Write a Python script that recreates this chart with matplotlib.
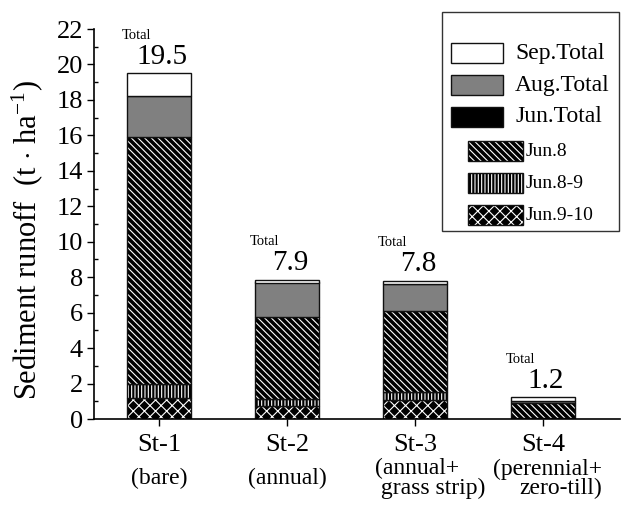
import numpy as np
import matplotlib.pyplot as plt
from matplotlib.patches import Rectangle
from matplotlib.ticker import MultipleLocator
from matplotlib.transforms import Affine2D

plt.rcParams['font.family'] = 'Liberation Serif'
plt.rcParams['mathtext.fontset'] = 'custom'
plt.rcParams['mathtext.rm'] = 'Liberation Serif'
plt.rcParams['mathtext.it'] = 'Liberation Serif:italic'
plt.rcParams['hatch.linewidth'] = 0.8

# data (t/ha), stacked bottom -> top
stations = ['St-1', 'St-2', 'St-3', 'St-4']
sublabels = ['(bare)', '(annual)', '(annual+\n grass strip)', '(perennial+\nzero-till)']
jun_9_10 = [1.2, 0.72, 1.1, 0.02]
jun_8_9 = [0.8, 0.4, 0.45, 0.02]
jun_8 = [13.9, 4.65, 4.55, 0.86]
aug_total = [2.3, 1.93, 1.5, 0.1]
sep_total = [1.3, 0.15, 0.2, 0.22]
totals = ['19.5', '7.9', '7.8', '1.2']

HATCH_J8 = '\\' * 5
HATCH_J89 = '|' * 5
HATCH_J910 = 'xxx'

fig = plt.figure(figsize=(6.23, 5.15), dpi=100)
ax = fig.add_axes([94/623, 1-419/515, 526/623, 390/515])

x = np.arange(1, len(stations) + 1)
w = 0.5
layers = [
    (jun_9_10, 'black', HATCH_J910),
    (jun_8_9, 'black', HATCH_J89),
    (jun_8, 'black', HATCH_J8),
    (aug_total, '#808080', None),
    (sep_total, 'white', None),
]
bottom = np.zeros(len(x))
for vals, fc, hatch in layers:
    if hatch:
        ax.bar(x, vals, w, bottom=bottom, color=fc, edgecolor='white', hatch=hatch, linewidth=0)
        ax.bar(x, vals, w, bottom=bottom, facecolor='none', edgecolor='#111111', linewidth=1)
    else:
        ax.bar(x, vals, w, bottom=bottom, facecolor=fc, edgecolor='#111111', linewidth=1)
    bottom += np.array(vals)

# total labels
for xi, top, t in zip(x, bottom, totals):
    ax.annotate(t, (xi, top), xytext=(2, 7), textcoords='offset points',
                ha='center', va='baseline', fontsize=21)
    ax.annotate('Total', (xi - w/2, top), xytext=(-4, 25), textcoords='offset points',
                ha='left', va='baseline', fontsize=10.5)

ax.set_xlim(0.49, 4.6)
ax.set_ylim(0, 22)
ax.set_xticks(x)
ax.set_xticklabels(stations, fontsize=19)
ax.yaxis.set_major_locator(MultipleLocator(2))
ax.yaxis.set_minor_locator(MultipleLocator(1))
ax.tick_params(axis='y', which='major', direction='out', length=5, width=1, labelsize=19, pad=3)
ax.tick_params(axis='y', which='minor', direction='in', length=3, width=1)
ax.tick_params(axis='x', direction='out', length=5, width=1, pad=6)
for s in ['top', 'right']:
    ax.spines[s].set_visible(False)
for s in ['left', 'bottom']:
    ax.spines[s].set_linewidth(1.2)
ax.set_ylabel(r'Sediment runoff  (t $\cdot$ ha$^{-1}$)', fontsize=22)
ax.yaxis.set_label_coords(-0.094, 0.459)

# sub labels under station names
sub_pos = [(0, 'center', 'center'), (0, 'center', 'center'), (-29, 'left', 'left'), (42.5, 'right', 'right')]
for xi, lab, (dx, ha, ma) in zip(x, sublabels, sub_pos):
    ax.annotate(lab, (xi, 0), xycoords=('data', 'axes fraction'), xytext=(dx, -43),
                textcoords='offset points', ha=ha, va='center', multialignment=ma,
                fontsize=17, linespacing=0.9)

# legend drawn by hand (pixel coordinates, y downward)
tr = Affine2D().scale(1/623, -1/515).translate(0, 1) + fig.transFigure
fig.add_artist(Rectangle((442, 12), 177, 219, transform=tr, facecolor='white',
                         edgecolor='#333333', linewidth=1))
big = [('Sep.Total', 'white', 53), ('Aug.Total', '#808080', 85), ('Jun.Total', 'black', 117)]
for lab, fc, yc in big:
    fig.add_artist(Rectangle((451, yc - 10), 52, 20, transform=tr, facecolor=fc,
                             edgecolor='#111111', linewidth=1))
    fig.text(515/623, 1 - yc/515, lab, fontsize=17, va='center', ha='left')
small = [('Jun.8', HATCH_J8, 151), ('Jun.8-9', HATCH_J89, 183), ('Jun.9-10', HATCH_J910, 215)]
for lab, hatch, yc in small:
    fig.add_artist(Rectangle((468, yc - 10), 55, 20, transform=tr, facecolor='black',
                             edgecolor='white', hatch=hatch, linewidth=0))
    fig.add_artist(Rectangle((468, yc - 10), 55, 20, transform=tr, facecolor='none',
                             edgecolor='#111111', linewidth=1))
    fig.text(526/623, 1 - yc/515, lab, fontsize=14, va='center', ha='left')

plt.savefig('out.png', dpi=100)
